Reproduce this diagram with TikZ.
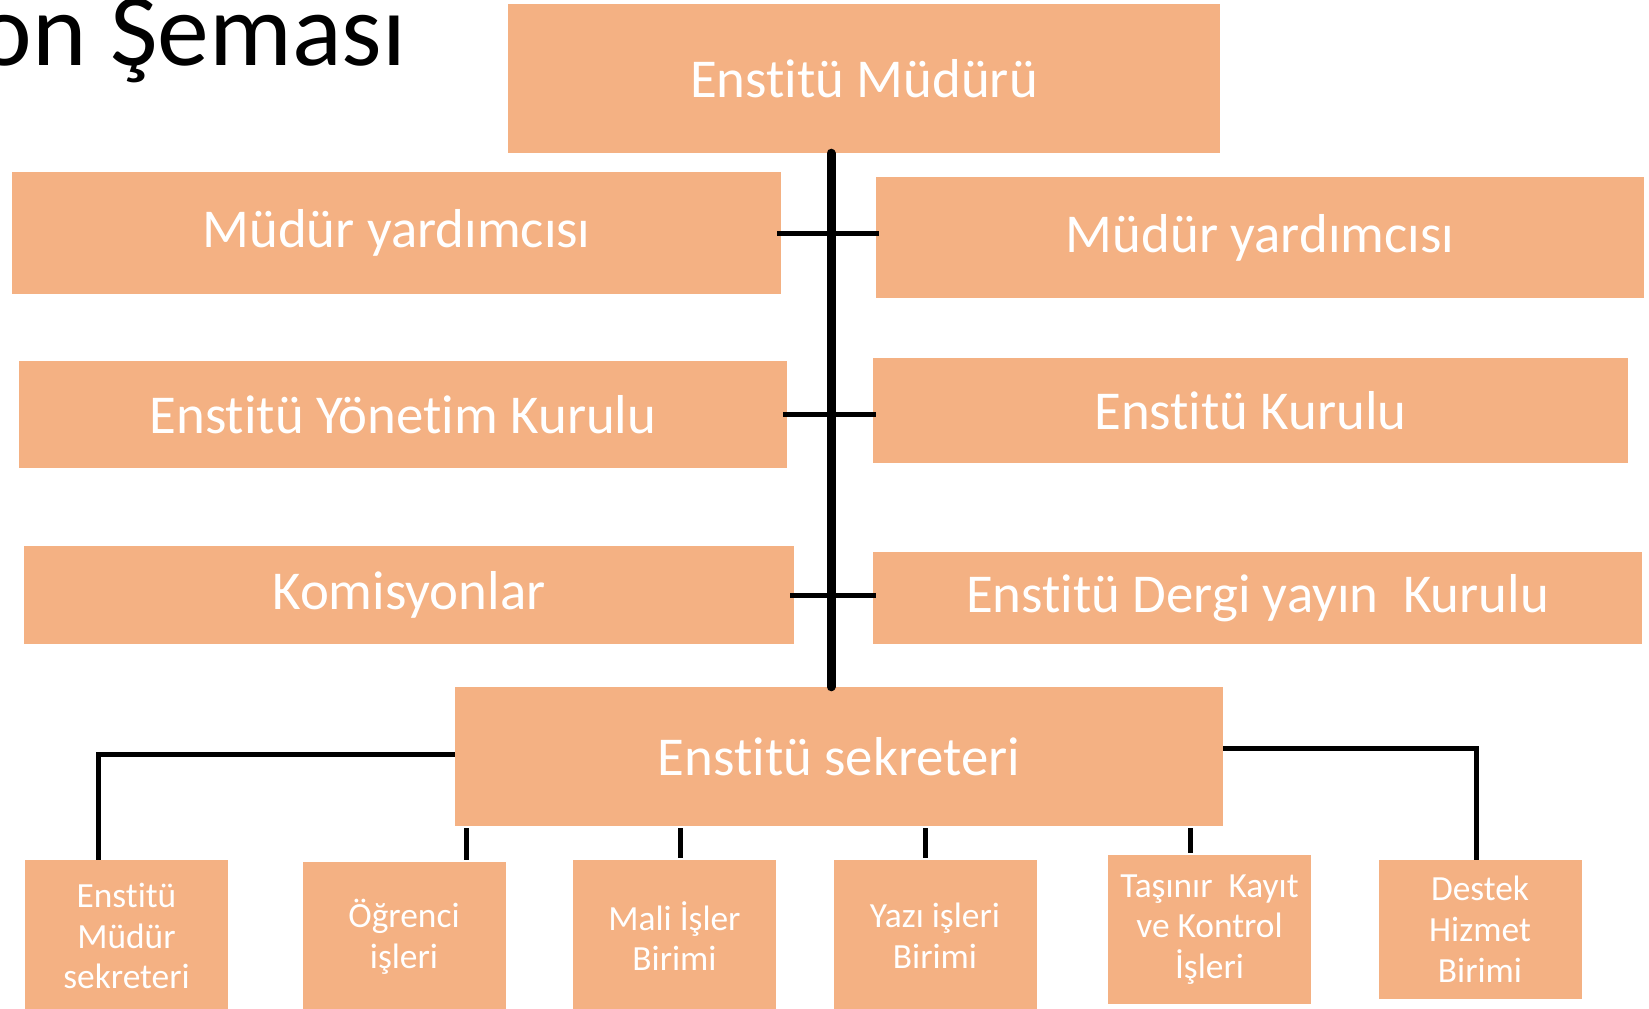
\documentclass[tikz,border=0pt]{standalone}
\usepackage{fontspec}
\setmainfont{Carlito}[Ligatures=NoCommon]
\usepackage{tikz}
\usetikzlibrary{positioning}
\definecolor{kutu}{RGB}{244,177,131}

\begin{document}
\begin{tikzpicture}[x=1bp,y=-1bp,
  every node/.style={font=\fontsize{55}{66}\selectfont},
  box/.style={fill=kutu,text=white,inner sep=0pt,align=center},
  birim/.style={box,font=\fontsize{35.5}{41}\selectfont},
  cizgi/.style={line width=5bp}]
  \useasboundingbox (0,0) rectangle (1649,1008);
  \node[anchor=base west,inner sep=0pt,font=\fontsize{104}{124}\selectfont] (baslik) at (-22.5,65) {on Şeması};
  % ust kisim
  \foreach \n/\x/\y/\w/\h/\t in {mudur/864/78.5/712/149/{Enstitü Müdürü},
      yrdL/396.5/233/769/122/{Müdür yardımcısı}, yrdR/1260/237.5/768/121/{Müdür yardımcısı},
      ykurL/403/414.5/768/107/{Enstitü Yönetim Kurulu}, kurR/1250.5/410.5/755/105/{Enstitü Kurulu},
      komL/409/595/770/98/{Komisyonlar}, dergiR/1257.5/598/769/92/{Enstitü Dergi yayın~ Kurulu},
      sek/839/756.5/768/139/{Enstitü sekreteri}}{
      \node[box,minimum width=\w bp,minimum height=\h bp] (\n) at (\x,\y) {\t};
  }
  % birimler
  \foreach \n/\x/\y/\h/\t in {b1/126.5/936/152/{Enstitü\\Müdür\\sekreteri},
      b2/404/937/150/{Öğrenci\\işleri}, b3/674.5/936/152/{Mali İşler\\Birimi},
      b4/935/936/152/{Yazı işleri\\Birimi}, b5/1209.5/929.5/149/{Taşınır~ Kayıt\\ve Kontrol\\İşleri},
      b6/1480/929.5/139/{Destek\\Hizmet\\Birimi}}{
      \node[birim,minimum width=203bp,minimum height=\h bp] (\n) at (\x,\y) {\t};
  }
  \coordinate (govde) at (831,0);
  \draw[line width=9bp,line cap=round] (mudur.south -| govde) -- (sek.north -| govde);
  \foreach \l/\r in {yrdL/yrdR,ykurL/kurR,komL/dergiR}{
      \draw[cizgi] ([xshift=-4bp]\l.east) -- ([xshift=3bp]\l.east -| \r.west);
  }
  \draw[cizgi] ([yshift=2.5bp]sek.west) -| ([xshift=-28bp]b1.north);
  \draw[cizgi] ([yshift=8.5bp]sek.east) -| ([xshift=-4bp]b6.north);
  \foreach \b/\d in {b2/62,b3/5.5,b4/-10,b5/-19.5}{
      \draw[cizgi,shorten <=2bp,shorten >=2bp] ([xshift=\d bp]\b.north) -- ([xshift=\d bp]\b.north |- sek.south);
  }
\end{tikzpicture}
\end{document}
